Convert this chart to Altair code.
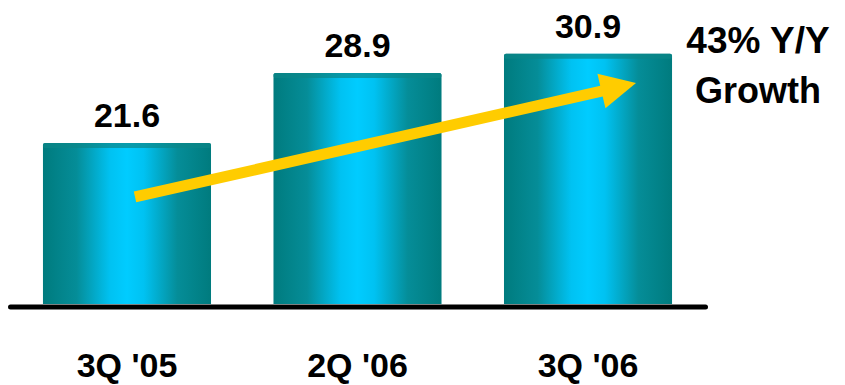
import altair as alt
import pandas as pd

quarters = ["3Q '05", "2Q '06", "3Q '06"]
revenue = [21.6, 28.9, 30.9]
labels = ["21.6", "28.9", "30.9"]

# arrow annotation (start at first quarter, end at last quarter)
arrow_from = ["3Q '05"]
arrow_to = ["3Q '06"]
arrow_v0 = [15.97]
arrow_v1 = [27.13]
head_v = [27.44]
growth_lines = ["43% Y/Y", "Growth"]

Y_MIN, Y_MAX = 4.81, 36.51

bars_df = pd.DataFrame({"q": quarters, "v": revenue, "lab": labels})
arrow_df = pd.DataFrame({"q": arrow_from, "q2": arrow_to, "v0": arrow_v0, "v1": arrow_v1, "hv": head_v})

FONT = "Liberation Sans"
xscale = alt.Scale(domain=quarters, paddingInner=0.271, paddingOuter=0.143)
xenc = alt.X("q:N", sort=None, title=None, scale=xscale,
             axis=alt.Axis(labelFont=FONT, labelFontSize=34, labelFontWeight="bold",
                           labelColor="black", labelAngle=0, labelBaseline="alphabetic",
                           labelPadding=70, ticks=False, tickSize=0, domainColor="black",
                           domainWidth=5, domainCap="round", offset=2.5))
yscale = alt.Scale(domain=[Y_MIN, Y_MAX], zero=False, nice=False)

grad = alt.Gradient(
    gradient="linear", x1=0, x2=1, y1=0, y2=0,
    stops=[
        alt.GradientStop(color="#007b7e", offset=0),
        alt.GradientStop(color="#058d98", offset=0.2),
        alt.GradientStop(color="#00c2f2", offset=0.4),
        alt.GradientStop(color="#00ccff", offset=0.5),
        alt.GradientStop(color="#00c2f2", offset=0.6),
        alt.GradientStop(color="#058d98", offset=0.8),
        alt.GradientStop(color="#007b7e", offset=1),
    ],
)

base = alt.Chart(bars_df)
bars = base.mark_bar(color=grad, cornerRadiusTopLeft=2, cornerRadiusTopRight=2).encode(
    x=xenc,
    y=alt.Y("v:Q", scale=yscale, axis=None),
    y2=alt.datum(Y_MIN),
)
tops = base.mark_tick(color="#0b8688", thickness=5, size=168, yOffset=2.5, cornerRadius=2).encode(
    x=alt.X("q:N", sort=None, scale=xscale),
    y=alt.Y("v:Q", scale=yscale),
)
vals = base.mark_text(font=FONT, fontSize=34, fontWeight="bold", color="black",
                      baseline="alphabetic", dy=-16).encode(
    x=alt.X("q:N", sort=None, scale=xscale),
    y=alt.Y("v:Q", scale=yscale),
    text="lab:N",
)

arrow_base = alt.Chart(arrow_df)
shaft = arrow_base.mark_rule(color="#ffcc00", strokeWidth=11, strokeCap="butt",
                             xOffset=8, x2Offset=19).encode(
    x=alt.X("q:N", sort=None, scale=xscale),
    x2="q2:N",
    y=alt.Y("v0:Q", scale=yscale),
    y2="v1:Q",
)
head = arrow_base.mark_point(shape="M -1 -1 L 1 0 L -1 1 Z", filled=True, opacity=1,
                             color="#ffcc00", size=1260, angle=347, xOffset=30.7).encode(
    x=alt.X("q2:N", sort=None, scale=xscale),
    y=alt.Y("hv:Q", scale=yscale),
)

growth_df = pd.DataFrame({"t": growth_lines, "row": [0, 1]})
growth1 = alt.Chart(growth_df.iloc[[0]]).mark_text(
    font=FONT, fontSize=37, fontWeight="bold", color="black", baseline="alphabetic", align="center"
).encode(x=alt.value(748), y=alt.value(53), text="t:N")
growth2 = alt.Chart(growth_df.iloc[[1]]).mark_text(
    font=FONT, fontSize=36, fontWeight="bold", color="black", baseline="alphabetic", align="center"
).encode(x=alt.value(748), y=alt.value(103), text="t:N")

chart = alt.layer(bars, tops, shaft, head, vals, growth1, growth2).properties(
    width=695, height=304,
    padding={"left": 10, "top": 0, "right": 0, "bottom": 0},
    background="white",
).configure_view(stroke=None)

chart.save("out.html", embed_options={"renderer": "svg", "actions": False})
